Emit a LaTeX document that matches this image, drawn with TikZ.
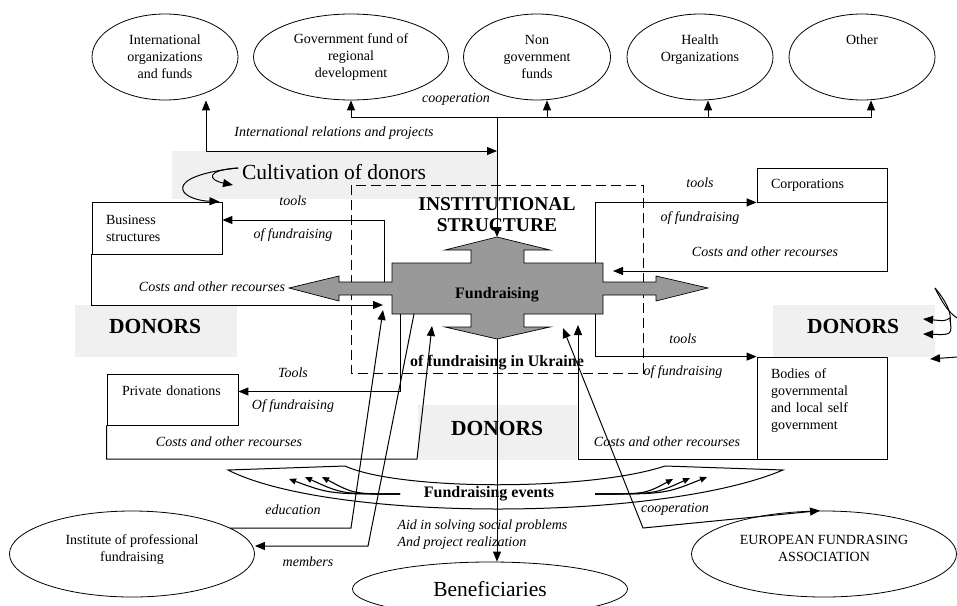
\documentclass[tikz,border=0pt]{standalone}
\usepackage{fontspec}
\setmainfont{Liberation Serif}
\usetikzlibrary{arrows.meta,shapes.geometric}

\tikzset{
  partner/.style={ellipse, draw, line width=0.8pt, inner sep=0pt, align=center, font=\fontsize{14}{17}\selectfont},
  fundbox/.style={rectangle, draw, line width=0.8pt, inner xsep=14pt, inner ysep=0pt, text width=102pt, align=left, font=\fontsize{14}{17}\selectfont},
  flow/.style={inner sep=0pt, font=\fontsize{14}{17}\selectfont\itshape},
  donorbg/.style={fill=black!6},
  bigbold/.style={font=\fontsize{21.5}{24}\selectfont\bfseries},
  midbold/.style={font=\fontsize{16}{18}\selectfont\bfseries},
  fan/.style={-{Triangle[length=7pt,width=6pt]}, line width=1.1pt}
}

\begin{document}
\begin{tikzpicture}[x=1pt,y=-1pt,line width=1pt]
\useasboundingbox (0,0) rectangle (957,605);

% shaded fields
\fill[donorbg] (172,151) rectangle (497,199);
\fill[donorbg] (75,305) rectangle (237,357);
\fill[donorbg] (418,405) rectangle (577,460);
\fill[donorbg] (773,305) rectangle (935,357);

\draw[dash pattern=on 10pt off 5pt] (351,185) rectangle (643,373);

\begin{scope}[every node/.style={partner}]
    \node[minimum width=146pt, minimum height=86pt] (intorg) at (165,57) {International\\organizations\\and funds};
    \node[minimum width=195pt, minimum height=86pt] (govfund) at (351,57) {Government fund of\\regional\\development};
    \node[minimum width=147pt, minimum height=86pt] (nongov) at (537,57) {Non\\government\\funds};
    \node[minimum width=146pt, minimum height=86pt] (health) at (700,57) {Health\\Organizations\\~};
    \node[minimum width=146pt, minimum height=86pt] (other) at (862,57) {Other\\~\\~};
    \node[minimum width=245pt, minimum height=86pt] (instprof) at (132,554) {Institute of professional\\fundraising\\[-5pt]~};
    \node[minimum width=265pt, minimum height=86pt] (efa) at (824,554) {EUROPEAN FUNDRASING\\ASSOCIATION\\[-5pt]~};
    \node[minimum width=275pt, minimum height=54pt, font=\fontsize{21.5}{24}\selectfont] (benef) at (490,589) {Beneficiaries};
\end{scope}

\begin{scope}[every node/.style={fundbox}]
    \node[minimum height=52pt] (bizbox) at (157,228) {Business\\structures};
    \node[minimum height=51pt, text width=101pt, inner xsep=15pt] (privbox) at (172.5,399.5) {Private donations\\~};
    \node[minimum height=34pt] (corpbox) at (822,185) {Corporations};
    \node[minimum height=102pt] (bodybox) at (822,408) {Bodies of\\governmental\\and local self\\government\\~};
\end{scope}

% fundraising cross
\coordinate (crosstop) at (497,237);
\coordinate (crossbot) at (497,339);
\filldraw[fill=black!40, line width=0.7pt] (crosstop) -- (550,250) -- (524,250) -- (524,263) -- (603,263) -- (603,282)
    -- (656,282) -- (656,276) -- (708,288) -- (656,301) -- (656,295) -- (603,295) -- (603,314) -- (524,314)
    -- (524,327) -- (550,327) -- (crossbot) -- (445,327) -- (471,327) -- (471,314) -- (392,314) -- (392,295)
    -- (339,295) -- (339,301) -- (289,288) -- (339,276) -- (339,282) -- (392,282) -- (392,263) -- (471,263)
    -- (471,250) -- (445,250) -- cycle;

\node[midbold] (fund) at (497,295) {Fundraising};
\node[font=\fontsize{19.5}{21}\selectfont\bfseries, align=center] (inststruct) at (497,215) {INSTITUTIONAL\\STRUCTURE};
\node[midbold] (ukr) at (497,363) {of fundraising in Ukraine};
\node[font=\fontsize{21.5}{24}\selectfont] (cultiv) at (334,172) {Cultivation of donors};
\node[bigbold] (donorsL) at (155,326) {DONORS};
\node[bigbold] (donorsM) at (497,428) {DONORS};
\node[bigbold] (donorsR) at (853,326) {DONORS};

% fundraising events
\draw (228,470) -- (345,466) .. controls (400,491) and (590,491) .. (665,466) -- (783,470)
    .. controls (660,522) and (330,522) .. cycle;
\node[midbold] (events) at (489,494) {Fundraising events};

\begin{scope}[every node/.style={flow}]
    \node (coopA) at (456,99) {cooperation};
    \node (intrel) at (334,133) {International relations and projects};
    \node (toolsA) at (293,201) {tools};
    \node (offundA) at (293,235) {of fundraising};
    \node (costsA) at (212,287) {Costs and other recourses};
    \node (toolsB) at (293,373) {Tools};
    \node (offundB) at (293,406) {Of fundraising};
    \node (costsB) at (229,442) {Costs and other recourses};
    \node (educ) at (293,510) {education};
    \node (memb) at (308,562) {members};
    \node[anchor=west, align=left] (aid) at (397,534.5) {Aid in solving social problems\\And project realization};
    \node (toolsC) at (700,183) {tools};
    \node (offundC) at (700,218) {of fundraising};
    \node (costsC) at (765,252) {Costs and other recourses};
    \node (toolsD) at (683,339) {tools};
    \node (offundD) at (683,372) {of fundraising};
    \node (costsD) at (667,442) {Costs and other recourses};
    \node (coopB) at (675,509) {cooperation};
\end{scope}

\coordinate (coophub) at (497,117);
\coordinate (intlcorner) at (206,151);
\coordinate (intlend) at (497,151);
\coordinate (lstemtop) at (384,282);
\coordinate (bizin) at (383,305);
\coordinate (privout) at (400,314);
\coordinate (privcorner) at (417,459);
\coordinate (privin) at (432,326);
\coordinate (corpout) at (595,263);
\coordinate (corpin) at (613,271);
\coordinate (bodyout) at (595,314);
\coordinate (bodyin) at (578,325);
\coordinate (educorner) at (351,528);
\coordinate (eduin) at (383,310);
\coordinate (memout) at (414,314);
\coordinate (memcorner) at (368,546);
\coordinate (coopin) at (563,328);
\coordinate (coopcorner) at (643,528);
\coordinate (fanL) at (400,494);
\coordinate (fanR) at (595,494);

\begin{scope}[>={Triangle[length=10pt,width=8pt]}]
    \draw[->] (coophub) -- (crosstop);
    \foreach \e/\s in {govfund/0, nongov/10, health/8, other/9}
        \draw[->] (coophub) -| ([xshift=\s pt]\e.south);
    \draw[<->] (intorg.south -| intlcorner) -- (intlcorner) -- (intlend);

    \draw[->] (lstemtop) |- ([yshift=8pt]bizbox.east);
    \draw[->] (bizbox.south west) |- (bizin);
    \draw[->] (privout) |- ([yshift=8pt]privbox.east);
    \draw[->] (privbox.south west) |- (privcorner) -- (privin);
    \draw[->] (corpout) |- (corpbox.south west);
    \draw[->] (corpbox.south east) |- (corpin);
    \draw[->] (bodyout) |- (bodybox.north west);
    \draw[->] (bodybox.south west) -| (bodyin);

    \draw[->] (instprof.15 |- educorner) -- (educorner) -- (eduin);
    \draw[->] (memout) -- (memcorner) -- (instprof.east |- memcorner);
    \draw[<->] (coopin) -- (coopcorner) -- ([xshift=-4pt]efa.north);
    \draw[->] (crossbot) -- (crossbot |- benef.north);

    % cultivation loops
    \draw[->] ([yshift=4pt]cultiv.west) .. controls (205,170) and (208,180) .. (233,185);
    \draw[->] ([yshift=4pt]cultiv.west) .. controls (160,176) and (178,200) .. ([xshift=-3pt]bizbox.north east);
    \draw (935,288) .. controls (945,300) and (952,312) .. (950,322);
    \draw (935,288) .. controls (942,302) and (948,312) .. (957,318);
    \draw[->] (950,318) .. controls (945,321) .. (923,319);
    \draw[->] (950,318) .. controls (952,335) .. (923,334);
    \draw[->] (957,357) -- (930,359);
\end{scope}

\draw[fan] (fanL) .. controls (330,494) .. (289,479);
\draw[fan] (fanL) .. controls (342,494) .. (305,477);
\draw[fan] (fanL) .. controls (354,494) .. (322,477);
\draw[fan] (fanR) .. controls (645,494) .. (673,479);
\draw[fan] (fanR) .. controls (655,494) .. (690,478);
\draw[fan] (fanR) .. controls (665,494) .. (707,477);
\end{tikzpicture}
\end{document}
